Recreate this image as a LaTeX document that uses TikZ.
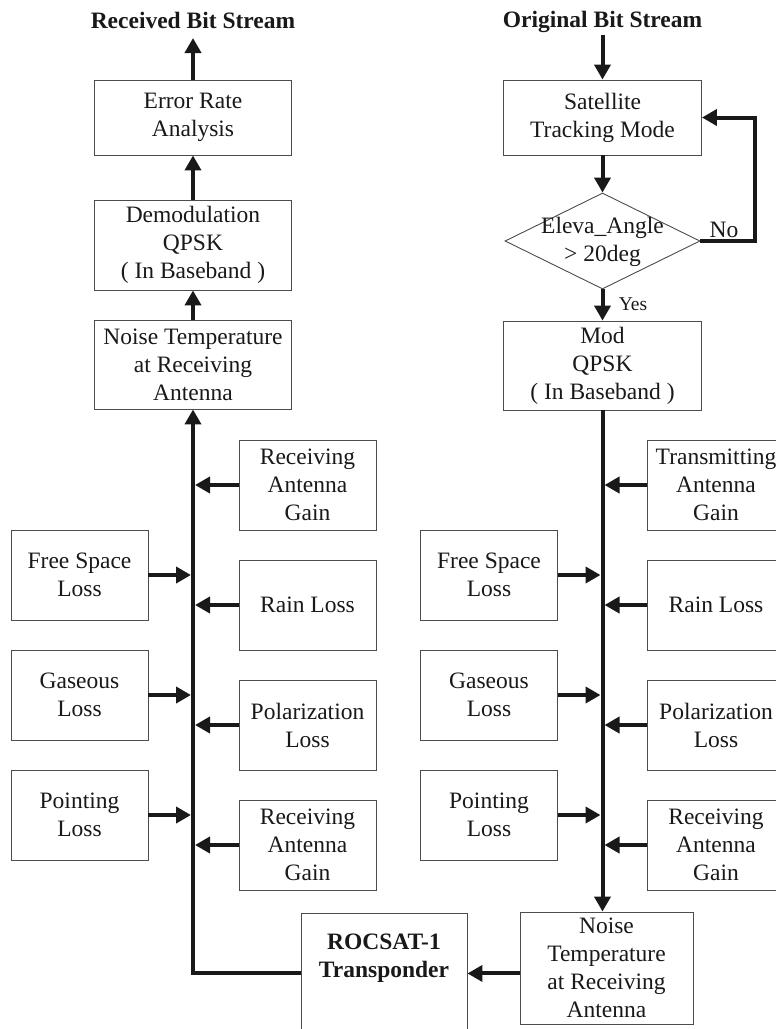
\documentclass[tikz,border=0pt]{standalone}
\usepackage{fontspec}
\setmainfont{Liberation Serif}
\usetikzlibrary{arrows.meta,shapes.geometric,calc}
\newcommand\myfsz{\fontsize{23.5pt}{28pt}\selectfont}
\newcommand\mysmallfsz{\fontsize{19.5pt}{23pt}\selectfont}
\begin{document}
\begin{tikzpicture}[x=1pt,y=-1pt,
  bx/.style={draw=black!70,line width=0.9pt,inner sep=0pt,align=center,font=\myfsz,text=black!90},
  wl/.style={minimum width=197pt},
  ws/.style={minimum width=137pt},
  h90/.style={minimum height=90pt},
  arr/.style={line width=4pt,draw=black!90,-{Triangle[length=15pt,width=16pt]}},
  lbl/.style={inner sep=0pt,font=\myfsz,text=black!90,align=center}]
\useasboundingbox (0,0) rectangle (776,1029);
\fill[white] (0,0) rectangle (776,1029);
% headers
\node[lbl,font=\myfsz\bfseries,anchor=base] (rbs) at (193,28) {Received Bit Stream};
\node[lbl,font=\myfsz\bfseries,anchor=base] (obs) at (602.5,27) {Original Bit Stream};
\coordinate (rtip) at (193,38);
\coordinate (otip) at (602.5,35);
% left column
\node[bx,wl,minimum height=75pt] (err) at (193,117.5) {Error Rate\\Analysis};
\node[bx,wl,h90] (dem) at (193,245) {Demodulation\\QPSK\\( In Baseband )};
\node[bx,wl,minimum height=89pt] (nsl) at (193,364.5) {Noise Temperature\\at Receiving\\Antenna};
\node[bx,ws,h90] (rag) at (307.5,485) {Receiving\\Antenna\\Gain};
\node[bx,ws,h90] (rain) at (307.5,605) {Rain Loss};
\node[bx,ws,h90] (pol) at (307.5,725) {Polarization\\Loss};
\node[bx,ws,h90] (ragb) at (307.5,845) {Receiving\\Antenna\\Gain};
\node[bx,ws,h90] (fs) at (79.5,575) {Free Space\\Loss};
\node[bx,ws,h90] (gas) at (79.5,695) {Gaseous\\Loss};
\node[bx,ws,h90] (pnt) at (79.5,815) {Pointing\\Loss};
% right column
\node[bx,minimum width=198pt,minimum height=75pt] (sat) at (602.5,117.5) {Satellite\\Tracking Mode};
\node[draw=black!70,line width=0.9pt,diamond,inner sep=0pt,minimum width=195pt,minimum height=96pt] (dia) at (602.5,241) {};
\node[lbl] (diat) at (602.5,241.5) {Eleva\_Angle\\> 20deg};
\node[lbl] (no) at (724,230) {No};
\node[lbl,font=\mysmallfsz] (yes) at (633,304) {Yes};
\coordinate (noc) at (755,241);
\node[bx,minimum width=198pt,minimum height=89pt] (mod) at (602.5,365.5) {Mod\\QPSK\\( In Baseband )};
\node[bx,minimum width=138pt,h90] (tag) at (716,485) {Transmitting\\Antenna\\Gain};
\node[bx,minimum width=138pt,h90] (rainr) at (716,605) {Rain Loss};
\node[bx,minimum width=138pt,h90] (polr) at (716,725) {Polarization\\Loss};
\node[bx,minimum width=138pt,h90] (ragr) at (716,845) {Receiving\\Antenna\\Gain};
\node[bx,ws,h90] (fsr) at (489,575) {Free Space\\Loss};
\node[bx,ws,h90] (gasr) at (489,695) {Gaseous\\Loss};
\node[bx,ws,h90] (pntr) at (489,815) {Pointing\\Loss};
\node[bx,minimum width=173pt,minimum height=112pt] (nsr) at (606.5,968) {Noise\\Temperature\\at Receiving\\Antenna};
\node[bx,minimum width=166pt,minimum height=120pt,anchor=north] (tr) at (384,913) {};
\node[lbl,font=\myfsz\bfseries] (trt) at (384,958) {ROCSAT-1\\Transponder};
% connectors left
\draw[arr] (err.north) -- (rtip);
\draw[arr] (dem.north) -- (err.south);
\draw[arr] (nsl.north) -- (dem.south);
\draw[arr] (tr.west) -| (nsl.south);
\foreach \n in {rag,rain,pol,ragb}
  \draw[arr] (\n.west) -- ($(\n.west -| nsl.south)+(2,0)$);
\foreach \n in {fs,gas,pnt}
  \draw[arr] (\n.east) -- ($(\n.east -| nsl.south)+(-2,0)$);
% connectors right
\draw[arr] (otip) -- (sat.north);
\draw[arr] (sat.south) -- (dia.north);
\draw[arr] (dia.south) -- (mod.north);
\draw[arr] (dia.east) -- (noc) |- (sat.east);
\draw[arr] (mod.south) -- (mod.south |- nsr.north);
\foreach \n in {tag,rainr,polr,ragr}
  \draw[arr] (\n.west) -- ($(\n.west -| mod.south)+(2,0)$);
\foreach \n in {fsr,gasr,pntr}
  \draw[arr] (\n.east) -- ($(\n.east -| mod.south)+(-2,0)$);
\draw[arr] (nsr.west |- tr.east) -- (tr.east);
\end{tikzpicture}
\end{document}
